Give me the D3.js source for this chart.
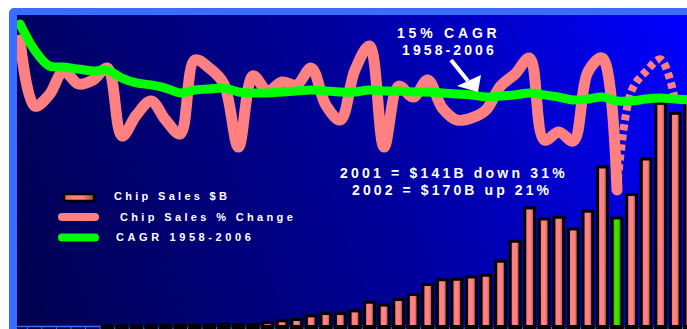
<!DOCTYPE html>
<html>
<head>
<meta charset="utf-8">
<script src="https://cdn.jsdelivr.net/npm/d3@7"></script>
<style>
  html, body { margin: 0; padding: 0; background: #fff; }
  svg { display: block; }
  text { font-family: "Liberation Sans", Arial, sans-serif; font-weight: bold; fill: #fff; }
</style>
</head>
<body>
<div id="chart"></div>
<script>
const width = 687, height = 329;

// category axis: one slot per year
const years = d3.range(1958, 2007);

// Chip sales $B (bars)
const salesYears = d3.range(1966, 2007);
const salesB = [0.5, 0.6, 0.7, 0.9, 1.0, 1.1, 1.5, 2.5, 2.8, 2.0,
                2.6, 5.0, 7.5, 9.1, 13.9, 16.9, 16.9, 20.4, 31.7, 28.0,
                35.2, 41.7, 54.8, 61.0, 61.7, 64.7, 66.9, 85.2, 111.3, 154.8,
                140.4, 142.6, 127.3, 150.5, 208.3, 141.7, 172.3, 218.7, 291.4, 278.3,
                298];
const highlightYear = 2001;

// Chip sales % change (solid line)
const pctYears = d3.range(1960, 2002);
const pctChange = [45.9, 12.2, 17.9, 30.1, 23.5, 25.5, 31.6, -3.1, 7.7, 14.8,
                   5.1, -2.0, 35.7, 31.6, 23.5, -8.7, 27.6, 19.9, 24.5, 23.0,
                   31.6, 12.8, 5.1, 30.6, 42.9, -8.7, 22.4, 16.8, 25.5, 11.2,
                   5.1, 6.1, 10.2, 22.4, 28.6, 36.7, -5.1, -1.0, -5.6, 29.6,
                   36.7, -30.6];

// % change after 2001 (dotted)
const forecastYears = [2001, 2002, 2003, 2004, 2005];
const forecastPct = [-30.6, 20, 30, 36, 15];

// CAGR since 1958
const cagrYears = d3.range(1960, 2007);
const cagrPct = [54.1, 40.8, 32.7, 32.1, 31.1, 30.1, 30.6, 26.5, 24.0, 23.0,
                 21.4, 18.9, 20.4, 20.9, 21.4, 19.4, 18.9, 18.9, 19.4, 19.9,
                 20.4, 19.9, 19.4, 19.4, 20.4, 19.9, 19.9, 19.4, 19.4, 18.9,
                 18.4, 17.9, 16.8, 17.3, 17.9, 18.9, 17.9, 16.8, 15.3, 15.8,
                 16.8, 14.8, 14.8, 15.8, 16.3, 15.8, 15.3];

const svg = d3.select("#chart").append("svg")
    .attr("width", width)
    .attr("height", height);

const defs = svg.append("defs");

// background: dark navy bottom-left to bright blue top-right
const bg = defs.append("linearGradient")
    .attr("id", "bg")
    .attr("gradientUnits", "userSpaceOnUse")
    .attr("x1", 17).attr("y1", 260).attr("x2", 687).attr("y2", 20);
bg.append("stop").attr("offset", 0).attr("stop-color", "#000052");
bg.append("stop").attr("offset", 0.5).attr("stop-color", "#000098");
bg.append("stop").attr("offset", 1).attr("stop-color", "#0000ff");

// cylinder shading for bars
function barGradient(id, dark, light, shade) {
    const g = defs.append("linearGradient").attr("id", id)
        .attr("x1", 0).attr("y1", 0).attr("x2", 1).attr("y2", 0);
    g.append("stop").attr("offset", 0).attr("stop-color", dark);
    g.append("stop").attr("offset", 0.3).attr("stop-color", light);
    g.append("stop").attr("offset", 0.6).attr("stop-color", light);
    g.append("stop").attr("offset", 1).attr("stop-color", shade);
}
barGradient("barPink", "#d46a6a", "#ff8282", "#9a4a4a");
barGradient("barGreen", "#2c9a00", "#44dd00", "#227000");

defs.append("clipPath").attr("id", "plotClip")
  .append("rect").attr("x", 17).attr("y", 15).attr("width", 680).attr("height", 320);

// frame
svg.append("rect")
    .attr("x", 9).attr("y", 8).attr("width", 700).attr("height", 340)
    .attr("rx", 5).attr("fill", "#3a6cff");
svg.append("rect")
    .attr("x", 17).attr("y", 15).attr("width", 690).attr("height", 330)
    .attr("fill", "url(#bg)");

// scales
const x = d3.scaleBand()
    .domain(years)
    .range([-16.36, 697.08])
    .paddingInner(0.33)
    .paddingOuter(0.165);
const yPct = d3.scaleLinear().domain([-40, 60]).range([208.4, 12.4]);
const ySales = d3.scaleLinear().domain([0, 300]).range([326.5, 96.7]);
const cx = yr => x(yr) + x.bandwidth() / 2;

// axis line + ticks between categories
const axisY = ySales(0);
svg.append("line")
    .attr("x1", 9).attr("x2", width)
    .attr("y1", axisY).attr("y2", axisY)
    .attr("stroke", "#3a6cff").attr("stroke-width", 1.5);

// black footing under the bars
svg.append("rect")
    .attr("x", x(salesYears[0]) - 2).attr("y", axisY - 0.5)
    .attr("width", width).attr("height", 4)
    .attr("fill", "#000");

svg.append("g").selectAll("line")
  .data(years)
  .join("line")
    .attr("x1", d => x(d) - x.step() * x.paddingInner() / 2)
    .attr("x2", d => x(d) - x.step() * x.paddingInner() / 2)
    .attr("y1", axisY + 0.5).attr("y2", axisY + 3)
    .attr("stroke", "#3a6cff").attr("stroke-width", 1);

// bars
const sales = salesYears.map((yr, i) => ({ year: yr, v: salesB[i] }));
svg.append("g").selectAll("rect")
  .data(sales)
  .join("rect")
    .attr("x", d => x(d.year))
    .attr("y", d => ySales(d.v))
    .attr("width", x.bandwidth())
    .attr("height", d => ySales(0) - ySales(d.v))
    .attr("fill", d => d.year === highlightYear ? "url(#barGreen)" : "url(#barPink)")
    .attr("stroke", "#000")
    .attr("stroke-width", 3);

// lines
const line = d3.line()
    .x(d => cx(d.year))
    .y(d => yPct(d.v))
    .curve(d3.curveCatmullRom.alpha(0.5));

const lines = svg.append("g").attr("clip-path", "url(#plotClip)");

lines.append("path")
    .attr("d", line(pctYears.map((yr, i) => ({ year: yr, v: pctChange[i] }))))
    .attr("fill", "none")
    .attr("stroke", "#ff8080")
    .attr("stroke-width", 11)
    .attr("stroke-linejoin", "round")
    .attr("stroke-linecap", "round");

lines.append("path")
    .attr("d", line(forecastYears.map((yr, i) => ({ year: yr, v: forecastPct[i] }))))
    .attr("fill", "none")
    .attr("stroke", "#ff8080")
    .attr("stroke-width", 8)
    .attr("stroke-dasharray", "6,4");

lines.append("path")
    .attr("d", line(cagrYears.map((yr, i) => ({ year: yr, v: cagrPct[i] }))))
    .attr("fill", "none")
    .attr("stroke", "#00ff00")
    .attr("stroke-width", 9)
    .attr("stroke-linejoin", "round")
    .attr("stroke-linecap", "round");

// CAGR callout
svg.append("text").attr("x", 397).attr("y", 38)
    .style("font-size", "14px").style("letter-spacing", "3.8px")
    .text("15% CAGR");
svg.append("text").attr("x", 402).attr("y", 55)
    .style("font-size", "14px").style("letter-spacing", "3.1px")
    .text("1958-2006");

svg.append("line")
    .attr("x1", 451).attr("y1", 60).attr("x2", 468).attr("y2", 81)
    .attr("stroke", "#fff").attr("stroke-width", 4);
svg.append("polygon")
    .attr("points", "457,86 481,75 478,92")
    .attr("fill", "#fff");

// 2001/2002 note
svg.append("text").attr("x", 340).attr("y", 178)
    .style("font-size", "14px").style("letter-spacing", "3.2px")
    .text("2001 = $141B down 31%");
svg.append("text").attr("x", 352).attr("y", 195)
    .style("font-size", "14px").style("letter-spacing", "3.1px")
    .text("2002 = $170B up 21%");

// legend
const legend = svg.append("g");
legend.append("rect")
    .attr("x", 64).attr("y", 194).attr("width", 30).attr("height", 7)
    .attr("fill", "url(#barPink)").attr("stroke", "#000").attr("stroke-width", 2.5);
legend.append("line")
    .attr("x1", 62).attr("x2", 95).attr("y1", 217).attr("y2", 217)
    .attr("stroke", "#ff8080").attr("stroke-width", 8).attr("stroke-linecap", "round");
legend.append("line")
    .attr("x1", 62).attr("x2", 95).attr("y1", 237.5).attr("y2", 237.5)
    .attr("stroke", "#00ff00").attr("stroke-width", 8).attr("stroke-linecap", "round");

legend.append("text").attr("x", 114).attr("y", 200)
    .style("font-size", "11px").style("letter-spacing", "3.3px")
    .text("Chip Sales $B");
legend.append("text").attr("x", 120).attr("y", 221)
    .style("font-size", "11px").style("letter-spacing", "3.35px")
    .text("Chip Sales % Change");
legend.append("text").attr("x", 116).attr("y", 241)
    .style("font-size", "11px").style("letter-spacing", "3.6px")
    .text("CAGR 1958-2006");
</script>
</body>
</html>
